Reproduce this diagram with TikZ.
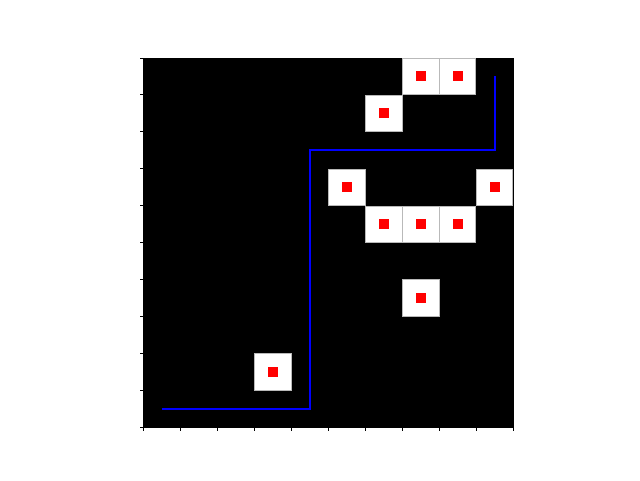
\documentclass[tikz,border=0pt]{standalone}
\usetikzlibrary{positioning}
\begin{document}
\begin{tikzpicture}[
    x=1pt, y=1pt,
    cellbox/.style={rectangle, draw=gray!55, line width=0.6pt, fill=white,
        minimum size=36.4pt, inner sep=0pt},
    goal/.style={rectangle, fill=red, minimum size=10pt, inner sep=0pt},
    route/.style={blue, line width=2pt},
    tick/.style={black, line width=0.8pt},
]
\useasboundingbox (0,0) rectangle (640,480);

\begin{scope}[shift={(143.5,53)}, x=36.95pt, y=36.9pt]
% ── Board ────────────────────────────
\fill[black] (0,0) rectangle (10,10);
\draw[black, line width=0.8pt] (0,0) rectangle (10,10);

% ── Ticks ────────────────────────────
\foreach \i in {0,...,10} {
    \draw[tick] (\i,0) -- ++(0,-3.5pt);
    \draw[tick] (0,\i) -- ++(-3.5pt,0);
}

% ── Free cells with targets ──────────
\foreach \cx/\cy in {7/9, 8/9, 6/8, 5/6, 9/6, 6/5, 7/5, 8/5, 7/3, 3/1} {
    \node[cellbox] (cell-\cx-\cy) at (\cx+0.5,\cy+0.5) {};
    \node[goal] (dot-\cx-\cy) at (cell-\cx-\cy) {};
}

% ── Route ────────────────────────────
\coordinate (start) at (0.5,0.5);
\coordinate (bend1) at (4.5,0.5);
\coordinate (bend2) at (4.5,7.5);
\coordinate (bend3) at (9.5,7.5);
\coordinate (finish) at (9.5,9.5);
\draw[route] (start) -- (bend1) -- (bend2) -- (bend3) -- (finish);
\end{scope}
\end{tikzpicture}
\end{document}
